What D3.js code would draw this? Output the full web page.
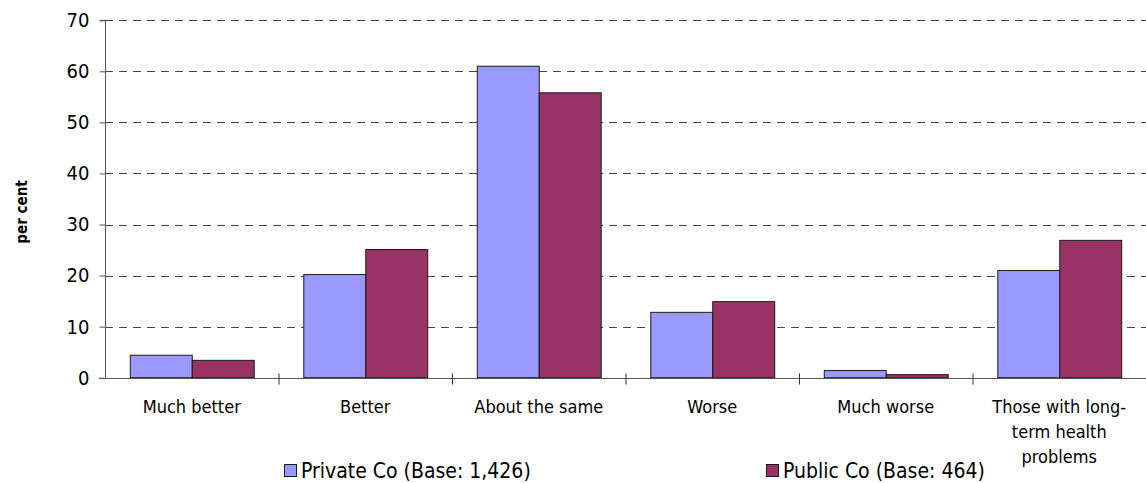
<!DOCTYPE html>
<html>
<head>
<meta charset="utf-8">
<script src="https://cdn.jsdelivr.net/npm/d3@7"></script>
<style>
  html, body { margin: 0; padding: 0; background: #fff; }
  svg { display: block; }
  text { font-family: "DejaVu Sans Condensed", "DejaVu Sans", sans-serif; fill: #000; }
</style>
</head>
<body>
<svg id="chart" width="1146" height="483"></svg>
<script>
// Self-reported health change, by company type (per cent)
const categories = ["Much better", "Better", "About the same", "Worse", "Much worse", "Those with long-term health problems"];
const categoryLines = [["Much better"], ["Better"], ["About the same"], ["Worse"], ["Much worse"], ["Those with long-", "term health", "problems"]];
const seriesNames = ["Private Co (Base: 1,426)", "Public Co (Base: 464)"];
const privateCo = [4.4, 20.2, 61.0, 12.8, 1.4, 21.0];
const publicCo = [3.4, 25.1, 55.8, 14.9, 0.6, 26.9];
const yTicks = [0, 10, 20, 30, 40, 50, 60, 70];
const colors = ["#9999FF", "#993366"];

const svg = d3.select("#chart");
const plotLeft = 105, plotRight = 1146, plotTop = 20.3, plotBottom = 377.7;

const x = d3.scaleBand().domain(categories).range([plotLeft, plotRight]).padding(0);
const bw = x.bandwidth();
const x1 = d3.scaleBand().domain([0, 1]).range([0, bw]).paddingInner(0).paddingOuter(0.4);
const y = d3.scaleLinear().domain([0, 70]).range([plotBottom, plotTop]);

// dashed gridlines
svg.append("g").selectAll("line").data(yTicks.filter(d => d > 0)).join("line")
  .attr("x1", plotLeft).attr("x2", plotRight)
  .attr("y1", d => Math.round(y(d)) + 0.5).attr("y2", d => Math.round(y(d)) + 0.5)
  .attr("stroke", "#444").attr("stroke-width", 1).attr("stroke-dasharray", "8,6");

// bars
const rows = categories.map((c, i) => ({ c, vals: [privateCo[i], publicCo[i]] }));
const grp = svg.append("g").selectAll("g").data(rows).join("g")
  .attr("transform", d => `translate(${x(d.c)},0)`);
grp.selectAll("rect").data(d => d.vals.map((v, k) => ({ v, k }))).join("rect")
  .attr("x", d => x1(d.k) + 0.5)
  .attr("width", x1.bandwidth())
  .attr("y", d => y(d.v))
  .attr("height", d => y(0) - y(d.v))
  .attr("fill", d => colors[d.k])
  .attr("stroke", "#1a1a1a").attr("stroke-width", 1);

// y axis
const yAxis = svg.append("g").attr("transform", `translate(${plotLeft + 0.5},0)`)
  .call(d3.axisLeft(y).tickValues(yTicks).tickSize(6).tickPadding(10).tickFormat(d3.format("d")));
yAxis.select(".domain").attr("stroke", "#555").attr("d", `M-6,${y(70)}H0V${y(0)}`);
yAxis.selectAll(".tick line").attr("stroke", "#555");
yAxis.selectAll(".tick text").style("font-size", "20px").attr("fill", "#000")
  .style("font-family", "'DejaVu Sans Condensed', 'DejaVu Sans', sans-serif");

// x axis baseline and category separators
const xAxis = svg.append("g").attr("transform", `translate(0,${Math.round(plotBottom) + 0.5})`);
xAxis.append("line").attr("x1", plotLeft - 6).attr("x2", plotRight).attr("stroke", "#555");
xAxis.selectAll("line.sep").data(categories.slice(1)).join("line").attr("class", "sep")
  .attr("x1", d => x(d) + 0.5).attr("x2", d => x(d) + 0.5)
  .attr("y1", -5).attr("y2", 6).attr("stroke", "#333");

// category labels
const lab = svg.append("g").selectAll("text").data(categories).join("text")
  .attr("x", d => x(d) + bw / 2)
  .attr("y", 413)
  .attr("text-anchor", "middle")
  .style("font-size", "18px");
lab.each(function (d, i) {
  d3.select(this).selectAll("tspan").data(categoryLines[i]).join("tspan")
    .attr("x", x(d) + bw / 2)
    .attr("dy", (t, j) => j === 0 ? 0 : 25)
    .text(t => t);
});

// y axis title
svg.append("text")
  .attr("transform", "translate(27,212) rotate(-90)")
  .attr("text-anchor", "middle")
  .style("font-size", "15px").style("font-weight", "bold")
  .text("per cent");

// legend
const legendX = [284, 766];
const leg = svg.append("g").selectAll("g").data(seriesNames).join("g")
  .attr("transform", (d, i) => `translate(${legendX[i]},464)`);
leg.append("rect").attr("x", 0.5).attr("y", 0.5).attr("width", 12).attr("height", 12)
  .attr("fill", (d, i) => colors[i]).attr("stroke", "#1a1a1a");
leg.append("text").attr("x", 17).attr("y", 13.5)
  .style("font-size", "21px").text(d => d);
</script>
</body>
</html>
